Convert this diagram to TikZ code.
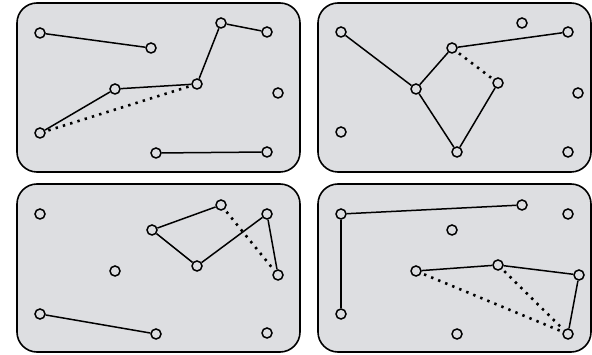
\documentclass[tikz,border=0pt]{standalone}
\begin{document}
\begin{tikzpicture}[x=1pt,y=-1pt,
  panel/.style={draw=black,line width=1.6pt,fill=panelgray,rounded corners=20pt},
  pt/.style={circle,draw=black,line width=1.5pt,fill=panelgray,minimum size=10pt,inner sep=0pt},
  edge/.style={draw=black,line width=1.5pt},
  dotedge/.style={draw=black,line width=2.6pt,dash pattern=on 2.4pt off 5.2pt,shorten <=3pt,shorten >=3pt}]
\definecolor{panelgray}{RGB}{221,222,225}
\useasboundingbox (0,0) rectangle (592,355);
\draw[panel] (17,3) rectangle (300,172);
\draw[panel] (318,3) rectangle (591,172);
\draw[panel] (17,184) rectangle (300,352);
\draw[panel] (318,184) rectangle (591,352);
% panel 1
\node[pt] (a1) at (40,33) {};
\node[pt] (a2) at (151,48) {};
\node[pt] (a3) at (221,23) {};
\node[pt] (a4) at (267,32) {};
\node[pt] (a5) at (115,89) {};
\node[pt] (a6) at (197,84) {};
\node[pt] (a7) at (278,93) {};
\node[pt] (a8) at (40,133) {};
\node[pt] (a9) at (156,153) {};
\node[pt] (a10) at (267,152) {};
\draw[edge] (a1) -- (a2);
\draw[edge] (a3) -- (a4);
\draw[edge] (a3) -- (a6);
\draw[edge] (a6) -- (a5);
\draw[edge] (a5) -- (a8);
\draw[edge] (a9) -- (a10);
\draw[dotedge] (a8) -- (a6);
% panel 2
\node[pt] (b1) at (341,32) {};
\node[pt] (b2) at (522,23) {};
\node[pt] (b3) at (568,32) {};
\node[pt] (b4) at (452,48) {};
\node[pt] (b5) at (416,89) {};
\node[pt] (b6) at (498,83) {};
\node[pt] (b7) at (578,93) {};
\node[pt] (b8) at (341,132) {};
\node[pt] (b9) at (457,152) {};
\node[pt] (b10) at (568,152) {};
\draw[edge] (b1) -- (b5);
\draw[edge] (b5) -- (b4);
\draw[edge] (b4) -- (b3);
\draw[edge] (b5) -- (b9);
\draw[edge] (b9) -- (b6);
\draw[dotedge] (b4) -- (b6);
% panel 3
\node[pt] (c1) at (40,214) {};
\node[pt] (c2) at (221,205) {};
\node[pt] (c3) at (267,214) {};
\node[pt] (c4) at (152,230) {};
\node[pt] (c5) at (197,266) {};
\node[pt] (c6) at (115,271) {};
\node[pt] (c7) at (278,275) {};
\node[pt] (c8) at (40,314) {};
\node[pt] (c9) at (156,334) {};
\node[pt] (c10) at (267,333) {};
\draw[edge] (c4) -- (c2);
\draw[edge] (c4) -- (c5);
\draw[edge] (c5) -- (c3);
\draw[edge] (c3) -- (c7);
\draw[edge] (c8) -- (c9);
\draw[dotedge] (c2) -- (c7);
% panel 4
\node[pt] (d1) at (341,214) {};
\node[pt] (d2) at (522,205) {};
\node[pt] (d3) at (568,214) {};
\node[pt] (d4) at (452,230) {};
\node[pt] (d5) at (416,271) {};
\node[pt] (d6) at (498,265) {};
\node[pt] (d7) at (579,275) {};
\node[pt] (d8) at (341,314) {};
\node[pt] (d9) at (457,334) {};
\node[pt] (d10) at (568,334) {};
\draw[edge] (d1) -- (d2);
\draw[edge] (d1) -- (d8);
\draw[edge] (d5) -- (d6);
\draw[edge] (d6) -- (d7);
\draw[edge] (d7) -- (d10);
\draw[dotedge] (d5) -- (d10);
\draw[dotedge] (d6) -- (d10);
\end{tikzpicture}
\end{document}
